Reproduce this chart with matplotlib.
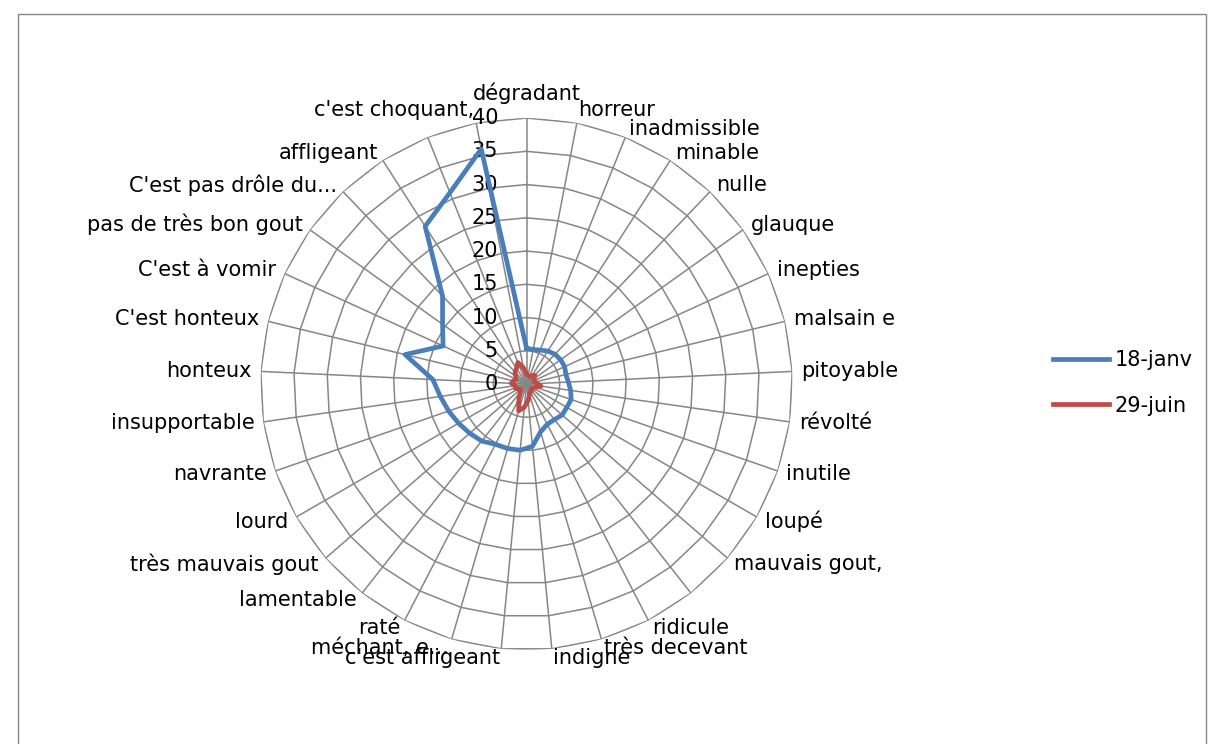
import numpy as np
import matplotlib.pyplot as plt
from matplotlib.patches import Rectangle

categories = ["dégradant", "horreur", "inadmissible", "minable", "nulle", "glauque",
              "inepties", "malsain e", "pitoyable", "révolté", "inutile", "loupé",
              "mauvais gout,", "", "ridicule", "très decevant", "indigne",
              "c'est affligeant", "méchant, e...", "raté", "lamentable",
              "très mauvais gout", "lourd", "navrante", "insupportable", "honteux",
              "C'est honteux", "C'est à vomir", "pas de très bon gout",
              "C'est pas drôle du...", "affligeant", "", "c'est choquant,"]
janv = [5.4, 5.3, 5.5, 5.9, 6.2, 6.3, 6.3, 6.1, 6.3, 6.7, 7.1, 7.0, 7.1, 6.8, 6.8,
        7.5, 9.4, 10.0, 10.1, 10.2, 10.9, 11.3, 11.8, 12.4, 13.1, 14.1, 18.8,
        13.8, 15.5, 18.3, 28.2, 31.0, 36.0]
juin = [1.5, 1.3, 1.2, 1.5, 1.8, 1.4, 1.2, 1.3, 1.6, 2.2, 1.5, 1.2, 1.0, 1.2, 1.3,
        1.6, 2.5, 3.5, 4.2, 2.5, 1.5, 1.2, 1.5, 1.8, 1.7, 2.3, 2.0, 1.7, 2.0,
        2.5, 2.8, 3.5, 2.5]
series_names = ["18-janv", "29-juin"]
radial_ticks = [0, 5, 10, 15, 20, 25, 30, 35, 40]

blue = "#4A7EBB"
red = "#BE4B48"
grid = "#868686"

plt.rcParams['font.family'] = ['DejaVu Sans']
plt.rcParams['font.size'] = 15

fig = plt.figure(figsize=(12.09, 7.44), dpi=100)
fig.add_artist(Rectangle((18 / 1209, -0.05), 1188 / 1209, 1.05 - 14 / 744,
                         transform=fig.transFigure, fill=False,
                         edgecolor=grid, linewidth=1))

ax = fig.add_axes([0.2155, 0.1263, 0.44, 0.715], projection='polar')
ax.set_theta_zero_location('N')
ax.set_theta_direction(-1)
ax.grid(False)
ax.set_xticks([])
ax.set_yticks([])
ax.spines['polar'].set_visible(False)
ax.set_ylim(0, radial_ticks[-1])

n = len(categories)
theta = np.arange(n) * 2 * np.pi / n
closed = np.append(theta, theta[0])

# spokes and polygon rings, like the excel radar grid
for t in theta:
    ax.plot([t, t], [0, radial_ticks[-1]], color=grid, lw=1.1, zorder=1)
for v in radial_ticks[1:]:
    ax.plot(closed, [v] * (n + 1), color=grid, lw=1.1, zorder=1)

for v in radial_ticks:
    ax.annotate(str(v), xy=(0, v), xytext=(-20.5, 0), textcoords='offset points',
                ha='right', va='center', fontsize=15)

for t, lab in zip(theta, categories):
    s, c = np.sin(t), np.cos(t)
    dx, dy = 9 * s, 9 * c
    va = 'center'
    if abs(s) < 0.05:
        ha = 'center'
        if c > 0:
            va = 'bottom'
            dy = 14
    else:
        ha = 'left' if s > 0 else 'right'
        if c > 0.95:
            dy += 4
    ax.annotate(lab, xy=(t, radial_ticks[-1]), xytext=(dx * 0.72, dy * 0.72),
                textcoords='offset points', ha=ha, va=va, fontsize=15)

ax.plot(closed, janv + janv[:1], color=blue, lw=3.4, label=series_names[0], zorder=3)
ax.plot(closed, juin + juin[:1], color=red, lw=3.4, label=series_names[1], zorder=4)

fig.legend(loc='center left', bbox_to_anchor=(1034 / 1209, 1 - 383 / 744),
           frameon=False, handlelength=2.7, handletextpad=0.25, labelspacing=1.2,
           fontsize=15)

fig.savefig("out.png", dpi=100)
